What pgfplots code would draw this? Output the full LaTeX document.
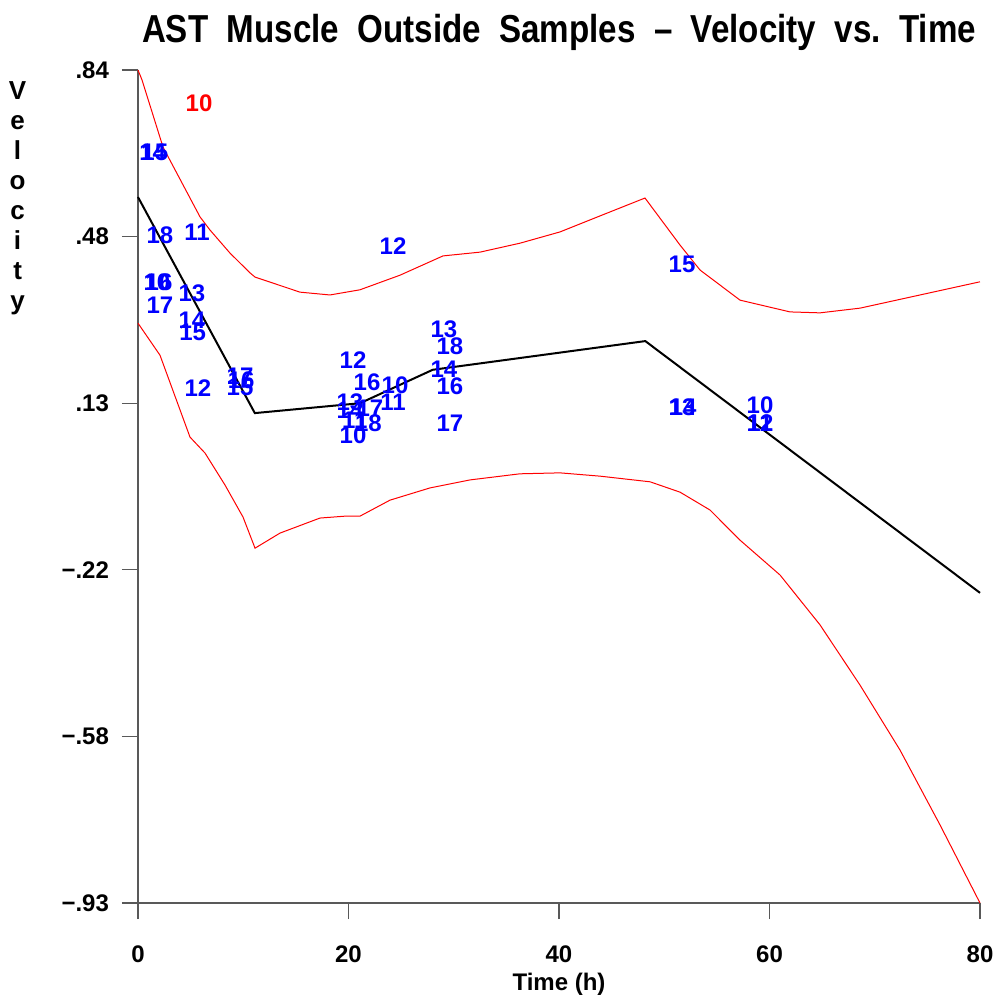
\documentclass[border=0pt]{standalone}
\usepackage{fontspec}
\setmainfont{Liberation Sans}
\usepackage{pgfplots}
\pgfplotsset{compat=1.18}
\usepackage{pgfplotstable}

\pgfplotstableread{
x y
0 0.570
11.1 0.111
21.1 0.132
28.0 0.203
48.2 0.264
80 -0.271
}\fitlinetab

\pgfplotstableread{
x y
0 0.840
0.38 0.819
2.38 0.676
5.89 0.528
6.84 0.500
8.74 0.451
10.64 0.409
11.12 0.400
15.39 0.368
18.24 0.362
21.09 0.373
24.89 0.404
28.98 0.445
32.49 0.453
36.29 0.472
40.10 0.496
43.90 0.530
48.17 0.568
51.50 0.468
53.40 0.415
57.20 0.351
61.95 0.326
64.80 0.324
68.60 0.334
74.30 0.362
80 0.390
}\uppertab

\pgfplotstableread{
x y
0 0.302
2.09 0.234
4.94 0.060
6.37 0.026
8.27 -0.042
9.98 -0.110
11.12 -0.176
13.49 -0.144
17.29 -0.112
19.67 -0.108
21.09 -0.108
23.94 -0.074
27.74 -0.048
31.54 -0.031
36.29 -0.018
40.10 -0.016
43.90 -0.023
48.65 -0.035
51.50 -0.057
54.35 -0.095
57.20 -0.159
61.00 -0.233
64.80 -0.339
68.60 -0.467
72.40 -0.605
76.20 -0.764
80 -0.930
}\lowertab

\pgfplotstableread{
x y lab
1.4 0.666 14
1.6 0.666 15
2.09 0.489 18
5.61 0.496 11
24.23 0.466 12
1.8 0.390 10
2.0 0.390 16
5.13 0.366 13
2.09 0.341 17
5.13 0.309 14
5.2 0.283 15
5.70 0.164 12
9.7 0.190 17
9.8 0.181 16
9.7 0.166 15
20.43 0.224 12
21.76 0.177 16
24.42 0.171 10
24.23 0.135 11
20.14 0.135 13
20.14 0.118 14
22.04 0.122 17
20.6 0.095 11
21.9 0.090 18
20.43 0.064 10
29.07 0.290 13
29.64 0.254 18
29.07 0.205 14
29.64 0.169 16
29.64 0.090 17
51.69 0.426 15
51.69 0.124 13
51.8 0.124 14
59.1 0.128 10
59.1 0.090 12
59.1 0.090 11
}\bluelabs

\pgfplotstableread{
x y lab
5.80 0.770 10
}\redlabs

\begin{document}
\begin{tikzpicture}
\path[use as bounding box] (-69pt,-47pt) rectangle (431pt,451.5pt);
\begin{axis}[
  scale only axis,
  width=421pt, height=416.5pt,
  xmin=0, xmax=80, ymin=-0.93, ymax=0.84,
  axis x line*=bottom, axis y line*=left,
  axis line style={gray!70!black, line width=0.6pt},
  tick style={gray!70!black, line width=0.6pt},
  tick align=outside, major tick length=8pt,
  xtick={0,20,40,60,80},
  ytick={0.84,0.486,0.132,-0.222,-0.576,-0.93},
  yticklabels={.84,.48,.13,−.22,−.58,−.93},
  /pgf/number format/assume math mode=true,
  ticklabel style={font=\fontsize{12}{14}\selectfont\bfseries},
  xticklabel style={yshift=-10pt},
  yticklabel style={xshift=-3pt},
  xlabel={Time (h)},
  xlabel style={font=\fontsize{12}{14}\selectfont\bfseries, yshift=2pt},
  title={\scalebox{0.85}[1]{AST\ \ Muscle\ \ Outside\ \ Samples\ \ –\ \ Velocity\ \ vs.\ \ Time}},
  title style={font=\fontsize{19.5}{22}\selectfont\bfseries, at={(0.5,1)}, anchor=south, yshift=0pt},
  clip=false,
]
\addplot[red, line width=0.5pt] table {\uppertab};
\addplot[red, line width=0.5pt] table {\lowertab};
\addplot[black, line width=1pt] table {\fitlinetab};
\addplot[only marks, mark=none, point meta=explicit symbolic,
  nodes near coords, nodes near coords align=center,
  nodes near coords style={text=blue, font=\fontsize{12}{14}\selectfont\bfseries, anchor=center, inner sep=0pt}]
  table[meta=lab] {\bluelabs};
\addplot[only marks, mark=none, point meta=explicit symbolic,
  nodes near coords, nodes near coords align=center,
  nodes near coords style={text=red, font=\fontsize{12}{14}\selectfont\bfseries, anchor=center, inner sep=0pt}]
  table[meta=lab] {\redlabs};
\node[font=\fontsize{13}{15}\selectfont\bfseries, align=center, anchor=north] at (axis description cs:-0.143,0.995) {V\\e\\l\\o\\c\\i\\t\\y};
\end{axis}
\end{tikzpicture}
\end{document}
